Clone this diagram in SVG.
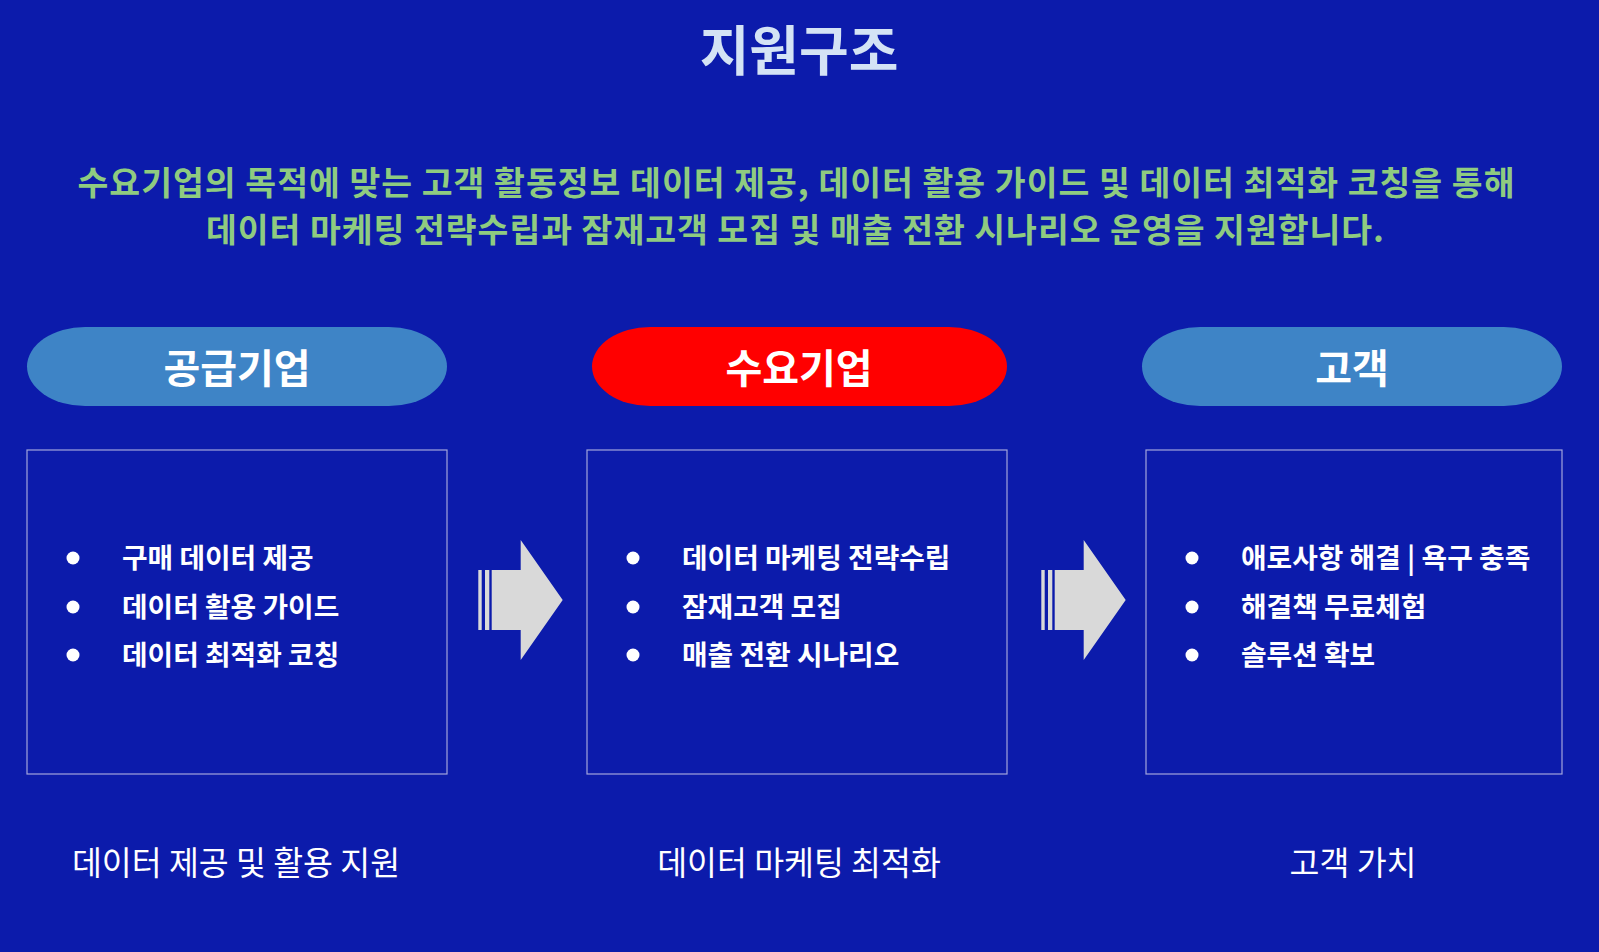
<svg xmlns="http://www.w3.org/2000/svg" width="1599" height="952" viewBox="0 0 1599 952">
<style>
text{font-family:"Noto Sans CJK KR","Noto Sans",sans-serif;}
.title{font-size:54px;font-weight:700;fill:#d4e3f5;text-anchor:middle;}
.sub{font-size:33.5px;font-weight:700;fill:#8fcb80;text-anchor:middle;}
.pilltxt{font-size:40px;font-weight:700;fill:#ffffff;text-anchor:middle;}
.item{font-size:27.8px;font-weight:700;fill:#ffffff;}
.foot{font-size:32.5px;font-weight:400;fill:#ffffff;text-anchor:middle;}
.box{fill:none;stroke:#a3a6dc;stroke-width:1.2;}
.dot{fill:#ffffff;}
.arrow{fill:#d9d9d9;}
</style>
<defs>
<g id="arrowShape">
<rect x="478.3" y="570" width="3.4" height="60" class="arrow"/>
<rect x="485" y="570" width="4.3" height="60" class="arrow"/>
<polygon points="491.7,570 520.7,570 520.7,540 562.7,600 520.7,660 520.7,630 491.7,630" class="arrow"/>
</g>
</defs>
<rect x="0" y="0" width="1599" height="952" fill="#0c1bab"/>
<g id="title">
<text class="title" x="799" y="71">지원구조</text>
</g>
<g id="subtitle">
<text class="sub" x="796" y="195" textLength="1437" lengthAdjust="spacing">수요기업의 목적에 맞는 고객 활동정보 데이터 제공, 데이터 활용 가이드 및 데이터 최적화 코칭을 통해</text>
<text class="sub" x="795" y="242" textLength="1178" lengthAdjust="spacing">데이터 마케팅 전략수립과 잠재고객 모집 및 매출 전환 시나리오 운영을 지원합니다.</text>
</g>
<g id="supplier">
<rect x="27" y="327" width="420" height="79" rx="58" ry="39.5" fill="#3e84c6"/>
<text class="pilltxt" x="237" y="383">공급기업</text>
<rect class="box" x="27" y="450" width="420" height="324"/>
<circle class="dot" cx="73" cy="558" r="6.5"/>
<circle class="dot" cx="73" cy="607" r="6.5"/>
<circle class="dot" cx="73" cy="655" r="6.5"/>
<text class="item" x="122" y="568">구매 데이터 제공</text>
<text class="item" x="122" y="617">데이터 활용 가이드</text>
<text class="item" x="122" y="665">데이터 최적화 코칭</text>
<text class="foot" x="236" y="875">데이터 제공 및 활용 지원</text>
</g>
<g id="demand">
<rect x="592" y="327" width="415" height="79" rx="58" ry="39.5" fill="#ff0000"/>
<text class="pilltxt" x="799" y="383">수요기업</text>
<rect class="box" x="587" y="450" width="420" height="324"/>
<circle class="dot" cx="633" cy="558" r="6.5"/>
<circle class="dot" cx="633" cy="607" r="6.5"/>
<circle class="dot" cx="633" cy="655" r="6.5"/>
<text class="item" x="682" y="568">데이터 마케팅 전략수립</text>
<text class="item" x="682" y="617">잠재고객 모집</text>
<text class="item" x="682" y="665">매출 전환 시나리오</text>
<text class="foot" x="799" y="875">데이터 마케팅 최적화</text>
</g>
<g id="customer">
<rect x="1142" y="327" width="420" height="79" rx="58" ry="39.5" fill="#3e84c6"/>
<text class="pilltxt" x="1352" y="383">고객</text>
<rect class="box" x="1146" y="450" width="416" height="324"/>
<circle class="dot" cx="1192" cy="558" r="6.5"/>
<circle class="dot" cx="1192" cy="607" r="6.5"/>
<circle class="dot" cx="1192" cy="655" r="6.5"/>
<text class="item" x="1241" y="568">애로사항 해결 | 욕구 충족</text>
<text class="item" x="1241" y="617">해결책 무료체험</text>
<text class="item" x="1241" y="665">솔루션 확보</text>
<text class="foot" x="1353" y="875">고객 가치</text>
</g>
<g id="connectors">
<use href="#arrowShape"/>
<use href="#arrowShape" transform="translate(563,0)"/>
</g>
</svg>
